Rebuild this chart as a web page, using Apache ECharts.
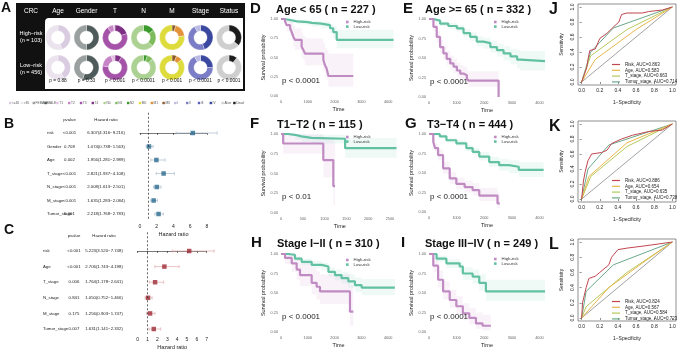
<!DOCTYPE html>
<html>
<head>
<meta charset="utf-8">
<script src="https://cdn.jsdelivr.net/npm/echarts@6/dist/echarts.min.js"></script>
<style>
  html, body { margin: 0; padding: 0; background: #fff; }
  #chart { width: 677px; height: 353px; }
</style>
</head>
<body>
<div id="chart"></div>
<script>
  // ---- A: clinical composition of the two risk groups
  const donutCols = ['Age', 'Gender', 'T', 'N', 'M', 'Stage', 'Status'];
  const donutPvals = ['p = 0.88', 'p = 0.33', 'p < 0.001', 'p < 0.0001', 'p < 0.001', 'p < 0.0001', 'p < 0.0001'];
  const highRiskParts = [[45, 55], [50, 50], [20, 70, 8, 2], [15, 22, 63], [5, 18, 77], [45, 47, 8], [36, 64]];
  const lowRiskParts = [[42, 58], [55, 45], [9, 68, 18, 5], [5, 8, 87], [6, 8, 86], [25, 67, 8], [11, 89]];
  const stripLabels = ['<=65', '>65', 'FEMALE', 'MALE', 'T1', 'T2', 'T3', 'T4', 'N0', 'N1', 'N2', 'M0', 'M1', 'MX', 'I', 'II', 'III', 'IV', 'Alive', 'Dead'];

  // ---- B / C: Cox regression
  const bVars = ['risk', 'Gender', 'Age', 'T_stage', 'N_stage', 'M_stage', 'Tumor_stage'];
  const bPvals = ['<0.001', '0.708', '0.002', '<0.001', '<0.001', '<0.001', '0.001'];
  const bHR = [6.307, 1.074, 1.956, 2.821, 2.008, 1.635, 2.218];
  const bLow = [4.316, 0.738, 1.281, 1.937, 1.613, 1.283, 1.768];
  const bHigh = [9.216, 1.563, 2.989, 4.108, 2.501, 2.084, 2.783];

  const cVars = ['risk', 'Age', 'T_stage', 'N_stage', 'M_stage', 'Tumor_stage'];
  const cPvals = ['<0.001', '<0.001', '0.006', '0.841', '0.175', '0.007'];
  const cHR = [5.223, 2.706, 1.764, 1.050, 1.256, 1.631];
  const cLow = [3.520, 1.743, 1.178, 0.752, 0.903, 1.141];
  const cHigh = [7.748, 4.198, 2.641, 1.466, 1.747, 2.332];

  // ---- D-I: Kaplan-Meier curves (time, survival, 95% band)
  const kmDHighT = [0, 150, 210, 340, 400, 460, 520, 770, 830, 900, 1580, 1640, 1700, 1770, 2700];
  const kmDHighS = [1, 0.97, 0.92, 0.88, 0.83, 0.77, 0.73, 0.64, 0.6, 0.55, 0.47, 0.4, 0.36, 0.26, 0.26];
  const kmDHighLo = [1, 0.91, 0.84, 0.78, 0.72, 0.65, 0.6, 0.5, 0.46, 0.4, 0.32, 0.25, 0.21, 0.12, 0.12];
  const kmDHighHi = [1, 1, 1, 0.99, 0.96, 0.91, 0.88, 0.82, 0.78, 0.75, 0.69, 0.63, 0.6, 0.55, 0.55];
  const kmDLowT = [0, 100, 300, 600, 1000, 1150, 1500, 1830, 1950, 2080, 4200];
  const kmDLowS = [1, 0.99, 0.97, 0.96, 0.95, 0.94, 0.92, 0.88, 0.83, 0.73, 0.73];
  const kmDLowLo = [1, 0.97, 0.95, 0.93, 0.92, 0.9, 0.88, 0.82, 0.75, 0.62, 0.62];
  const kmDLowHi = [1, 1, 0.99, 0.99, 0.98, 0.98, 0.97, 0.94, 0.91, 0.86, 0.86];

  const kmEHighT = [0, 160, 280, 400, 520, 640, 770, 890, 1010, 1130, 1250, 1370, 1430, 2520];
  const kmEHighS = [1, 0.9, 0.77, 0.64, 0.56, 0.49, 0.43, 0.39, 0.34, 0.3, 0.28, 0.24, 0.21, 0];
  const kmEHighLo = [1, 0.84, 0.7, 0.56, 0.48, 0.41, 0.35, 0.31, 0.26, 0.22, 0.2, 0.16, 0.13, 0];
  const kmEHighHi = [1, 0.96, 0.85, 0.73, 0.66, 0.59, 0.53, 0.49, 0.44, 0.41, 0.39, 0.35, 0.33, 0];
  const kmELowT = [0, 160, 400, 700, 1010, 1250, 1490, 1730, 1970, 2220, 2460, 2700, 2950, 3190, 3310, 4200];
  const kmELowS = [1, 0.98, 0.94, 0.91, 0.88, 0.82, 0.77, 0.71, 0.69, 0.64, 0.6, 0.56, 0.52, 0.48, 0.46, 0.46];
  const kmELowLo = [1, 0.96, 0.91, 0.87, 0.84, 0.77, 0.72, 0.65, 0.62, 0.57, 0.52, 0.47, 0.42, 0.37, 0.34, 0.34];
  const kmELowHi = [1, 1, 0.97, 0.95, 0.92, 0.87, 0.83, 0.78, 0.76, 0.72, 0.68, 0.65, 0.62, 0.6, 0.59, 0.59];

  const kmFHighT = [0, 50, 970, 1200, 1240];
  const kmFHighS = [1, 0.88, 0.67, 0.34, 0.34];
  const kmFHighLo = [1, 0.75, 0.45, 0.1, 0.1];
  const kmFHighHi = [1, 1, 0.95, 0.9, 0.9];
  const kmFLowT = [0, 170, 320, 470, 700, 1470, 2650];
  const kmFLowS = [1, 0.99, 0.97, 0.95, 0.94, 0.82, 0.82];
  const kmFLowLo = [1, 0.97, 0.93, 0.9, 0.88, 0.7, 0.7];
  const kmFLowHi = [1, 1, 1, 0.99, 0.99, 0.95, 0.95];

  const kmGHighT = [0, 155, 215, 330, 510, 750, 990, 1290, 1580, 1820, 2480, 2560];
  const kmGHighS = [1, 0.9, 0.82, 0.73, 0.56, 0.43, 0.36, 0.32, 0.28, 0.21, 0.11, 0.11];
  const kmGHighLo = [1, 0.85, 0.76, 0.66, 0.49, 0.36, 0.29, 0.25, 0.21, 0.14, 0.05, 0.05];
  const kmGHighHi = [1, 0.95, 0.88, 0.8, 0.64, 0.51, 0.44, 0.4, 0.37, 0.31, 0.25, 0.25];
  const kmGLowT = [0, 390, 630, 990, 1350, 1580, 1820, 2180, 2540, 2890, 3250, 4150];
  const kmGLowS = [1, 0.97, 0.92, 0.88, 0.82, 0.77, 0.71, 0.64, 0.6, 0.58, 0.54, 0.54];
  const kmGLowLo = [1, 0.95, 0.89, 0.85, 0.78, 0.73, 0.66, 0.58, 0.53, 0.5, 0.45, 0.45];
  const kmGLowHi = [1, 0.99, 0.95, 0.92, 0.86, 0.82, 0.77, 0.71, 0.68, 0.66, 0.64, 0.64];

  const kmHHighT = [0, 150, 400, 585, 710, 1145, 1330, 1455, 2575, 2700];
  const kmHHighS = [1, 0.95, 0.88, 0.8, 0.73, 0.63, 0.58, 0.52, 0.26, 0.26];
  const kmHHighLo = [1, 0.87, 0.77, 0.67, 0.59, 0.48, 0.42, 0.36, 0.08, 0.08];
  const kmHHighHi = [1, 1, 0.99, 0.94, 0.89, 0.82, 0.78, 0.74, 0.6, 0.6];
  const kmHLowT = [0, 275, 520, 770, 1145, 1520, 1770, 2015, 2260, 2510, 2760, 3010, 4250];
  const kmHLowS = [1, 0.99, 0.94, 0.9, 0.86, 0.84, 0.77, 0.73, 0.69, 0.65, 0.6, 0.57, 0.57];
  const kmHLowLo = [1, 0.97, 0.91, 0.86, 0.82, 0.79, 0.71, 0.66, 0.62, 0.57, 0.51, 0.47, 0.47];
  const kmHLowHi = [1, 1, 0.97, 0.94, 0.91, 0.89, 0.83, 0.8, 0.77, 0.74, 0.7, 0.68, 0.68];

  const kmIHighT = [0, 155, 330, 510, 750, 990, 1225, 1460, 1700, 1940, 2240];
  const kmIHighS = [1, 0.85, 0.67, 0.52, 0.41, 0.33, 0.24, 0.18, 0.11, 0.08, 0.08];
  const kmIHighLo = [1, 0.77, 0.57, 0.42, 0.31, 0.23, 0.15, 0.1, 0.04, 0.02, 0.02];
  const kmIHighHi = [1, 0.94, 0.79, 0.65, 0.54, 0.46, 0.37, 0.31, 0.25, 0.22, 0.22];
  const kmILowT = [0, 275, 630, 1110, 1225, 1580, 1820, 2060, 4200];
  const kmILowS = [1, 0.94, 0.88, 0.84, 0.75, 0.71, 0.63, 0.52, 0.52];
  const kmILowLo = [1, 0.9, 0.82, 0.77, 0.67, 0.62, 0.53, 0.4, 0.4];
  const kmILowHi = [1, 0.98, 0.93, 0.9, 0.83, 0.8, 0.74, 0.67, 0.67];

  const kmTitles = ['Age < 65 ( n = 227 )', 'Age >= 65 ( n = 332 )', 'T1\u2212T2 ( n = 115 )', 'T3\u2212T4 ( n = 444 )', 'Stage I\u2212II ( n = 310 )', 'Stage III\u2212IV ( n = 249 )'];
  const kmPvals = ['p < 0.0001', 'p < 0.0001', 'p < 0.01', 'p < 0.0001', 'p < 0.0001', 'p < 0.0001'];

  // ---- J-L: ROC curves, [1-specificity, sensitivity]
  const rocVars = ['Risk', 'Age', 'T_stage', 'Tumor_stage'];
  const jAuc = [0.863, 0.583, 0.663, 0.714];
  const kAuc = [0.886, 0.654, 0.635, 0.738];
  const lAuc = [0.824, 0.567, 0.584, 0.723];
  const jRisk = [[0, 0], [0.03, 0.1], [0.056, 0.19], [0.07, 0.3], [0.09, 0.42], [0.15, 0.44], [0.2, 0.58], [0.28, 0.65], [0.33, 0.71], [0.41, 0.8], [0.44, 0.9], [0.5, 0.92], [0.67, 0.92], [0.74, 0.94], [0.89, 0.96], [1, 1]];
  const jAge = [[0, 0], [0.15, 0.3], [0.6, 0.7], [1, 1]];
  const jT = [[0, 0], [0.1, 0.35], [0.5, 0.7], [1, 1]];
  const jTumor = [[0, 0], [0.1, 0.4], [0.35, 0.72], [1, 1]];
  const kRisk = [[0, 0], [0.01, 0.12], [0.02, 0.24], [0.04, 0.37], [0.07, 0.51], [0.11, 0.6], [0.22, 0.62], [0.28, 0.65], [0.33, 0.74], [0.44, 0.8], [0.56, 0.85], [0.74, 0.9], [0.89, 0.92], [1, 1]];
  const kAge = [[0, 0], [0.08, 0.3], [0.5, 0.75], [1, 1]];
  const kT = [[0, 0], [0.1, 0.3], [0.5, 0.7], [1, 1]];
  const kTumor = [[0, 0], [0.07, 0.4], [0.3, 0.72], [1, 1]];
  const lRisk = [[0, 0], [0.01, 0.2], [0.03, 0.3], [0.05, 0.4], [0.08, 0.52], [0.15, 0.55], [0.2, 0.6], [0.3, 0.7], [0.33, 0.8], [0.4, 0.9], [0.5, 0.92], [0.7, 0.95], [1, 1]];
  const lAge = [[0, 0], [0.3, 0.4], [0.7, 0.75], [1, 1]];
  const lT = [[0, 0], [0.05, 0.15], [0.5, 0.6], [1, 1]];
  const lTumor = [[0, 0], [0.05, 0.35], [0.35, 0.7], [1, 1]];
  const rocTicks = [0, 0.2, 0.4, 0.6, 0.8, 1];

  // ---- styles
  const FONT = '"Liberation Sans", Arial, sans-serif';
  const HIGH = '#c08ac2';
  const LOW = '#63c1a3';
  const HIGH_BAND = 'rgba(192, 138, 194, 0.1)';
  const LOW_BAND = 'rgba(99, 193, 163, 0.1)';
  const rocColors = ['#c0454f', '#e8b64c', '#b7c95a', '#6aa88a'];
  const donutColors = [
    ['#d9cce0', '#ebe4ee'],
    ['#4f5b5b', '#9aa09f'],
    ['#7d2f84', '#a553a9', '#c785c7', '#e2bfe1'],
    ['#3a9a2c', '#7dbb5c', '#acd293'],
    ['#8a5a2b', '#e3943b', '#dedb3c'],
    ['#3a48a0', '#7b7ec6', '#b9b9e4'],
    ['#1c1c1c', '#cfcfcf'],
  ];
  const stripColors = ['#d9cce0', '#ebe4ee', '#9aa09f', '#4f5b5b', '#e2bfe1', '#c785c7', '#a553a9', '#7d2f84',
    '#acd293', '#7dbb5c', '#3a9a2c', '#dedb3c', '#e3943b', '#8a5a2b', '#b9b9e4', '#7b7ec6', '#5a60b5', '#3a48a0', '#cfcfcf', '#1c1c1c'];

  const zip = (xs, ys) => xs.map((x, i) => [x, ys[i]]);
  const bandRows = (t, lo, hi) => t.slice(0, -1).map((x, i) => [x, t[i + 1], lo[i], hi[i]]);
  const hrText = (h, l, u) => `${h.toFixed(3)}(${l.toFixed(3)}\u2212${u.toFixed(3)})`;

  const grids = [], xAxes = [], yAxes = [], series = [], legends = [], graphics = [];

  function addGrid(box, extra) {
    grids.push(Object.assign({ containLabel: false, outerBoundsMode: 'none' }, box, extra || {}));
    return grids.length - 1;
  }

  function txt(text, x, y, size, opts) {
    opts = opts || {};
    graphics.push({
      type: 'text', x, y, z: 20, silent: true, rotation: opts.rotation || 0,
      style: {
        text, fill: opts.color || '#111', textAlign: opts.align || 'left', textVerticalAlign: 'middle',
        font: `${opts.bold ? 'bold ' : ''}${size}px ${FONT}`, lineHeight: opts.lineHeight,
      },
    });
  }

  // ---------- panel A
  graphics.push({ type: 'rect', z: 0, silent: true, shape: { x: 16, y: 3, width: 229, height: 88 }, style: { fill: '#111' } });
  graphics.push({ type: 'rect', z: 1, silent: true, shape: { x: 45, y: 18, width: 198, height: 71, r: [4, 0, 0, 0] }, style: { fill: '#fff' } });
  txt('A', 1, 8, 14, { bold: true });
  txt('CRC', 31, 11, 6.5, { color: '#fff', align: 'center' });
  txt('High\u2212risk\n(n = 103)', 31, 37, 5.5, { color: '#fff', align: 'center', lineHeight: 7 });
  txt('Low\u2212risk\n(n = 456)', 31, 69, 5.5, { color: '#fff', align: 'center', lineHeight: 7 });
  donutCols.forEach((col, i) => {
    const cx = 58 + 28.5 * i;
    txt(col, cx, 11, 6.5, { color: '#fff', align: 'center' });
    txt(donutPvals[i], cx, 81, 4.8, { align: 'center' });
    [highRiskParts, lowRiskParts].forEach((parts, r) => {
      series.push({
        type: 'pie', center: [cx, r ? 67.5 : 37.5], radius: [6.6, 12.5], silent: true, z: 5,
        label: { show: false }, labelLine: { show: false },
        itemStyle: { borderColor: '#fff', borderWidth: 0.3 },
        data: parts[i].map((v, k) => ({ value: v, itemStyle: { color: donutColors[i][k] } })),
      });
    });
  });
  stripLabels.forEach((lab, i) => {
    const x = 9 + 11.8 * i;
    graphics.push({ type: 'rect', z: 5, silent: true, shape: { x, y: 101.8, width: 2.4, height: 2.4 }, style: { fill: stripColors[i] } });
    txt(lab, x + 3, 103, 3.2, { color: '#555' });
  });

  // ---------- panels B / C
  function errorBar(color) {
    return function (params, api) {
      const y = api.value(2);
      const p1 = api.coord([api.value(0), y]);
      const p2 = api.coord([api.value(1), y]);
      const st = { stroke: color, lineWidth: 0.7 };
      return {
        type: 'group', children: [
          { type: 'line', shape: { x1: p1[0], y1: p1[1], x2: p2[0], y2: p2[1] }, style: st },
          { type: 'line', shape: { x1: p1[0], y1: p1[1] - 1.6, x2: p1[0], y2: p1[1] + 1.6 }, style: st },
          { type: 'line', shape: { x1: p2[0], y1: p2[1] - 1.6, x2: p2[0], y2: p2[1] + 1.6 }, style: st },
        ],
      };
    };
  }

  function forestPanel(box, yMin, yMax, xMax, xStep, vars, pvals, hr, lo, hi, markColor, barColor, margin, widths) {
    const g = addGrid(box);
    const lab = { fontSize: 4.3, color: '#222', fontFamily: FONT };
    xAxes.push({
      gridIndex: g, type: 'value', min: 0, max: xMax, interval: xStep,
      name: 'Hazard ratio', nameLocation: 'middle', nameGap: 11,
      nameTextStyle: { fontSize: 5.5, color: '#222' },
      axisLine: { lineStyle: { color: '#222', width: 0.6 } },
      axisTick: { length: 2, lineStyle: { color: '#222', width: 0.6 } },
      axisLabel: { fontSize: 5, color: '#222', margin: 3 },
      splitLine: { show: false },
    });
    yAxes.push({
      gridIndex: g, type: 'value', inverse: true, min: yMin, max: yMax,
      axisLine: { show: false }, axisTick: { show: false }, splitLine: { show: false },
      axisLabel: {
        customValues: [-1].concat(vars.map((_, i) => i)), align: 'left', margin,
        formatter: (v) => v < 0
          ? '{n| }{p|pvalue}{h|Hazard ratio}'
          : `{n|${vars[v]}}{p|${pvals[v]}}{h|${hrText(hr[v], lo[v], hi[v])}}`,
        rich: {
          n: Object.assign({ width: widths[0], align: 'left' }, lab),
          p: Object.assign({ width: widths[1], align: 'center' }, lab),
          h: Object.assign({ width: widths[2], align: 'center' }, lab),
        },
      },
    });
    series.push({
      type: 'custom', xAxisIndex: g, yAxisIndex: g, silent: true, z: 2,
      renderItem: errorBar(barColor), encode: { x: [0, 1], y: 2 },
      data: lo.map((l, i) => [l, hi[i], i]),
    });
    series.push({
      type: 'scatter', xAxisIndex: g, yAxisIndex: g, silent: true, z: 3,
      symbol: 'rect', symbolSize: 4.5, itemStyle: { color: markColor },
      data: hr.map((v, i) => [v, i]),
      markLine: {
        silent: true, symbol: 'none', label: { show: false },
        lineStyle: { type: [2, 2], color: '#222', width: 0.7 },
        data: [{ xAxis: 1 }],
      },
    });
  }

  txt('B', 4, 124, 14, { bold: true });
  forestPanel({ left: 140, top: 112.75, width: 67, height: 108 }, -1.5, 6.5, 8, 2,
    bVars, bPvals, bHR, bLow, bHigh, '#2b6a8e', '#a9bccc', 93, [16.5, 12, 61]);
  txt('C', 4, 230, 14, { bold: true });
  forestPanel({ left: 137.7, top: 232.3, width: 69, height: 101.4 }, -1.2, 5.3, 7, 1,
    cVars, cPvals, cHR, cLow, cHigh, '#9e2a35', '#e3a9ad', 94.7, [24, 14, 46]);

  // ---------- panels D-I
  function bandRect(color) {
    return function (params, api) {
      const a = api.coord([api.value(0), api.value(3)]);
      const b = api.coord([api.value(1), api.value(2)]);
      return { type: 'rect', shape: { x: a[0], y: a[1], width: b[0] - a[0], height: b[1] - a[1] }, style: { fill: color } };
    };
  }

  function kmPanel(letter, title, pval, box, xMax, xStep, high, low, legPos, letterX, titleX, titleY) {
    const g = addGrid(box);
    xAxes.push({
      gridIndex: g, type: 'value', min: 0, max: xMax, interval: xStep,
      name: 'Time', nameLocation: 'middle', nameGap: 10,
      nameTextStyle: { fontSize: 5.5, color: '#222' },
      axisLine: { show: false }, axisTick: { show: false }, splitLine: { show: false },
      axisLabel: { fontSize: 3.8, color: '#666', margin: 4, formatter: (v) => (v % xStep === 0 ? String(v) : '') },
    });
    yAxes.push({
      gridIndex: g, type: 'value', min: 0, max: 1, interval: 0.25,
      name: 'Survival probability', nameLocation: 'middle', nameGap: 13,
      nameTextStyle: { fontSize: 5.5, color: '#222' },
      axisLine: { show: false }, axisTick: { show: false }, splitLine: { show: false },
      axisLabel: { fontSize: 3.8, color: '#666', margin: 3, formatter: (v) => v.toFixed(2) },
    });
    [[low, LOW_BAND], [high, HIGH_BAND]].forEach(([c, fill]) => {
      series.push({
        type: 'custom', xAxisIndex: g, yAxisIndex: g, silent: true, z: 1, clip: true,
        renderItem: bandRect(fill), encode: { x: [0, 1], y: [2, 3] },
        data: bandRows(c.t, c.lo, c.hi),
      });
    });
    [['Low-risk', low, LOW], ['High-risk', high, HIGH]].forEach(([name, c, color]) => {
      series.push({
        type: 'line', name, xAxisIndex: g, yAxisIndex: g, step: 'end', data: zip(c.t, c.s),
        showSymbol: false, clip: false, silent: true, z: 3,
        lineStyle: { color, width: 2.2 }, itemStyle: { color },
      });
    });
    legends.push({
      data: ['High-risk', 'Low-risk'], left: legPos[0], top: legPos[1], orient: 'vertical',
      icon: 'rect', itemWidth: 2.6, itemHeight: 2.6, itemGap: 0.6, padding: 0, selectedMode: false,
      textStyle: { fontSize: 4.3, color: '#333', fontFamily: FONT },
    });
    txt(letter, letterX, titleY - 1, 15, { bold: true });
    txt(title, titleX, titleY, 11, { bold: true });
    txt(pval, box.left + 1, box.top + box.height * 0.8, 8, { color: '#222' });
  }

  const km = (t, s, lo, hi) => ({ t, s, lo, hi });
  kmPanel('D', kmTitles[0], kmPvals[0], { left: 281, top: 19, width: 115.2, height: 77 }, 4300, 1000,
    km(kmDHighT, kmDHighS, kmDHighLo, kmDHighHi), km(kmDLowT, kmDLowS, kmDLowLo, kmDLowHi), [346, 20], 250, 276, 9.5);
  kmPanel('E', kmTitles[1], kmPvals[1], { left: 429, top: 19, width: 116, height: 78 }, 4200, 1000,
    km(kmEHighT, kmEHighS, kmEHighLo, kmEHighHi), km(kmELowT, kmELowS, kmELowLo, kmELowHi), [494, 20], 403, 425, 9.5);
  kmPanel('F', kmTitles[2], kmPvals[2], { left: 281, top: 134, width: 117.7, height: 79 }, 2700, 500,
    km(kmFHighT, kmFHighS, kmFHighLo, kmFHighHi), km(kmFLowT, kmFLowS, kmFLowLo, kmFLowHi), [346, 135], 250, 277, 125);
  kmPanel('G', kmTitles[3], kmPvals[3], { left: 429, top: 134, width: 116, height: 78 }, 4200, 1000,
    km(kmGHighT, kmGHighS, kmGHighLo, kmGHighHi), km(kmGLowT, kmGLowS, kmGLowLo, kmGLowHi), [494, 135], 405, 427, 125);
  kmPanel('H', kmTitles[4], kmPvals[4], { left: 281, top: 254, width: 115.2, height: 78 }, 4300, 1000,
    km(kmHHighT, kmHHighS, kmHHighLo, kmHHighHi), km(kmHLowT, kmHLowS, kmHLowLo, kmHLowHi), [346, 258], 251, 277, 244);
  kmPanel('I', kmTitles[5], kmPvals[5], { left: 429, top: 254, width: 116, height: 78 }, 4200, 1000,
    km(kmIHighT, kmIHighS, kmIHighLo, kmIHighHi), km(kmILowT, kmILowS, kmILowLo, kmILowHi), [494, 257], 401, 425, 244);

  // ---------- panels J-L
  function rocPanel(letter, box, aucs, curves, legTop) {
    const g = addGrid(box, { show: true, borderColor: '#444', borderWidth: 0.6, backgroundColor: 'transparent' });
    const tickStyle = { length: 2, lineStyle: { color: '#444', width: 0.6 } };
    xAxes.push({
      gridIndex: g, type: 'value', min: -0.04, max: 1.04,
      name: '1\u2212Specificity', nameLocation: 'middle', nameGap: 15,
      nameTextStyle: { fontSize: 5, color: '#222' },
      axisLine: { show: false }, splitLine: { show: false },
      axisTick: Object.assign({ customValues: rocTicks }, tickStyle),
      axisLabel: { customValues: rocTicks, fontSize: 5, color: '#222', margin: 3, formatter: (v) => v.toFixed(1) },
    });
    yAxes.push({
      gridIndex: g, type: 'value', min: -0.04, max: 1.04,
      name: 'Sensitivity', nameLocation: 'middle', nameGap: 14,
      nameTextStyle: { fontSize: 5, color: '#222' },
      axisLine: { show: false }, splitLine: { show: false },
      axisTick: Object.assign({ customValues: rocTicks }, tickStyle),
      axisLabel: { customValues: rocTicks, rotate: 90, fontSize: 5, color: '#222', margin: 3, formatter: (v) => v.toFixed(1) },
    });
    series.push({
      type: 'line', xAxisIndex: g, yAxisIndex: g, data: [[0, 0], [1, 1]], showSymbol: false, silent: true,
      lineStyle: { color: '#8a8a8a', width: 0.8 },
    });
    const names = rocVars.map((v, i) => `${v}, AUC=${aucs[i].toFixed(3)}`);
    curves.slice().reverse().forEach((data, ri) => {
      const i = curves.length - 1 - ri;
      series.push({
        type: 'line', name: names[i], xAxisIndex: g, yAxisIndex: g, data, showSymbol: false, silent: true,
        lineStyle: { color: rocColors[i], width: 1 }, itemStyle: { color: rocColors[i] },
      });
    });
    legends.push({
      data: names, left: 612, top: legTop, orient: 'vertical', icon: 'rect', itemWidth: 8, itemHeight: 1.2,
      itemGap: 0.8, padding: 0, selectedMode: false,
      textStyle: { fontSize: 4.5, color: '#222', fontFamily: FONT },
    });
    txt(letter, 549, box.top + 6, 16, { bold: true });
  }

  rocPanel('J', { left: 578, top: 4, width: 98, height: 81 }, jAuc, [jRisk, jAge, jT, jTumor], 62);
  rocPanel('K', { left: 578, top: 121, width: 98, height: 81 }, kAuc, [kRisk, kAge, kT, kTumor], 178);
  rocPanel('L', { left: 578, top: 239, width: 98, height: 82 }, lAuc, [lRisk, lAge, lT, lTumor], 299);

  const chart = echarts.init(document.getElementById('chart'));
  chart.setOption({
    animation: false,
    textStyle: { fontFamily: FONT },
    grid: grids,
    xAxis: xAxes,
    yAxis: yAxes,
    legend: legends,
    series,
    graphic: { elements: graphics },
  });
</script>
</body>
</html>
